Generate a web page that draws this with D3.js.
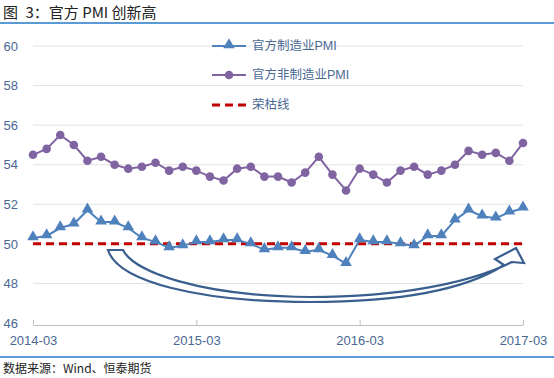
<!DOCTYPE html>
<html>
<head>
<meta charset="utf-8">
<script src="https://cdn.jsdelivr.net/npm/d3@7"></script>
<style>
  body { margin: 0; background: #fff; }
  svg { display: block; font-family: "Liberation Sans", "Noto Sans CJK SC", sans-serif; }
</style>
</head>
<body>
<div class="chart"></div>
<script>
// data: monthly, 2014-03 .. 2017-03
const months = [
  "2014-03","2014-04","2014-05","2014-06","2014-07","2014-08","2014-09","2014-10","2014-11","2014-12",
  "2015-01","2015-02","2015-03","2015-04","2015-05","2015-06","2015-07","2015-08","2015-09","2015-10","2015-11","2015-12",
  "2016-01","2016-02","2016-03","2016-04","2016-05","2016-06","2016-07","2016-08","2016-09","2016-10","2016-11","2016-12",
  "2017-01","2017-02","2017-03"
];
const mfgPMI = [
  50.3, 50.4, 50.8, 51.0, 51.7, 51.1, 51.1, 50.8, 50.3, 50.1,
  49.8, 49.9, 50.1, 50.1, 50.2, 50.2, 50.0, 49.7, 49.8, 49.8, 49.6, 49.7,
  49.4, 49.0, 50.2, 50.1, 50.1, 50.0, 49.9, 50.4, 50.4, 51.2, 51.7, 51.4,
  51.3, 51.6, 51.8
];
const nonMfgPMI = [
  54.5, 54.8, 55.5, 55.0, 54.2, 54.4, 54.0, 53.8, 53.9, 54.1,
  53.7, 53.9, 53.7, 53.4, 53.2, 53.8, 53.9, 53.4, 53.4, 53.1, 53.6, 54.4,
  53.5, 52.7, 53.8, 53.5, 53.1, 53.7, 53.9, 53.5, 53.7, 54.0, 54.7, 54.5,
  54.6, 54.2, 55.1
];
const boomLine = 50;
const yTicks = [46, 48, 50, 52, 54, 56, 58, 60];
const xTicks = ["2014-03", "2015-03", "2016-03", "2017-03"];
const legendLabels = ["官方制造业PMI", "官方非制造业PMI", "荣枯线"];

const width = 554, height = 378;
const blue = "#4F81BD", purple = "#8064A2", red = "#C00000";
const labelColor = "#4A6894";

let svg = d3.select(".chart").append("svg")
  .attr("width", width)
  .attr("height", height);

// title + rule
svg.append("text")
  .attr("x", 3).attr("y", 18)
  .attr("font-family", "Noto Sans CJK SC")
  .attr("font-size", 15)
  .attr("fill", "#222")
  .text("图\u20023：官方 PMI 创新高");
svg.append("line")
  .attr("x1", 0).attr("x2", width)
  .attr("y1", 23).attr("y2", 23)
  .attr("stroke", "#5B9BD5").attr("stroke-width", 2);

// scales
let x = d3.scalePoint().domain(months).range([33, 523]);
let y = d3.scaleLinear().domain([46, 60]).range([323, 46]);

// gridlines
svg.append("g")
  .selectAll("line")
  .data(yTicks.slice(1))
  .join("line")
  .attr("x1", 33).attr("x2", 523)
  .attr("y1", d => y(d)).attr("y2", d => y(d))
  .attr("stroke", "#E3E3E3").attr("stroke-width", 1);

// y axis labels
let yAxis = g => g
  .attr("transform", "translate(18,0)")
  .call(d3.axisLeft(y).tickValues(yTicks).tickSize(0).tickPadding(0))
  .call(g => g.select(".domain").remove())
  .call(g => g.selectAll("text")
    .attr("fill", labelColor)
    .attr("font-size", 13)
    .attr("font-family", "Liberation Sans"));
svg.append("g").call(yAxis);

// x axis
let xAxis = g => g
  .attr("transform", "translate(0,325)")
  .call(d3.axisTop(x).tickValues(xTicks).tickSize(5).tickSizeOuter(0))
  .call(g => g.select(".domain").attr("stroke", "#BFBFBF"))
  .call(g => g.selectAll(".tick line").attr("stroke", "#BFBFBF"))
  .call(g => g.selectAll("text")
    .attr("fill", labelColor)
    .attr("font-size", 13)
    .attr("font-family", "Liberation Sans")
    .attr("y", 15)
    .attr("dy", "0.35em"));
svg.append("g").call(xAxis);

// curved arrow (annotation)
svg.append("path")
  .attr("d",
    "M108,250 L123,250 " +
    "C134,272 200,296 310,297 " +
    "C400,297 470,283 512,262 " +
    "L524,263 L516,248 L495,259 L504,265 " +
    "C465,290 400,302 310,302 " +
    "C200,302 118,282 108,250 Z")
  .attr("fill", "#fff")
  .attr("stroke", "#3A5F8F")
  .attr("stroke-width", 2.2)
  .attr("stroke-linejoin", "miter");

// boom-bust line
svg.append("line")
  .attr("x1", x(months[0])).attr("x2", x(months[months.length - 1]))
  .attr("y1", y(boomLine)).attr("y2", y(boomLine))
  .attr("stroke", red).attr("stroke-width", 3)
  .attr("stroke-dasharray", "8,5");

let line = d3.line().x((d, i) => x(months[i])).y(d => y(d));

// non-manufacturing
svg.append("path").datum(nonMfgPMI)
  .attr("d", line).attr("fill", "none")
  .attr("stroke", purple).attr("stroke-width", 2);
svg.append("g").selectAll("circle")
  .data(nonMfgPMI).join("circle")
  .attr("cx", (d, i) => x(months[i]))
  .attr("cy", d => y(d))
  .attr("r", 4.3)
  .attr("fill", purple);

// manufacturing
let tri = d3.symbol().type(d3.symbolTriangle).size(58);
svg.append("path").datum(mfgPMI)
  .attr("d", line).attr("fill", "none")
  .attr("stroke", blue).attr("stroke-width", 2);
svg.append("g").selectAll("path")
  .data(mfgPMI).join("path")
  .attr("d", tri)
  .attr("transform", (d, i) => `translate(${x(months[i])},${y(d) - 1})`)
  .attr("fill", blue);

// legend
let legendY = [46, 75, 105];
let legend = svg.append("g");
legend.append("line").attr("x1", 212).attr("x2", 246).attr("y1", legendY[0]).attr("y2", legendY[0])
  .attr("stroke", blue).attr("stroke-width", 2);
legend.append("path").attr("d", tri).attr("transform", `translate(229,${legendY[0] - 1})`).attr("fill", blue);
legend.append("line").attr("x1", 212).attr("x2", 246).attr("y1", legendY[1]).attr("y2", legendY[1])
  .attr("stroke", purple).attr("stroke-width", 2);
legend.append("circle").attr("cx", 229).attr("cy", legendY[1]).attr("r", 4.3).attr("fill", purple);
legend.append("line").attr("x1", 212).attr("x2", 246).attr("y1", legendY[2]).attr("y2", legendY[2])
  .attr("stroke", red).attr("stroke-width", 3).attr("stroke-dasharray", "8,5");
legend.selectAll("text")
  .data(legendLabels).join("text")
  .attr("x", 252)
  .attr("y", (d, i) => legendY[i])
  .attr("dy", "0.35em")
  .attr("font-size", 12.5)
  .attr("font-family", "Liberation Sans, Noto Sans CJK SC")
  .attr("fill", labelColor)
  .text(d => d);

// footer
svg.append("line")
  .attr("x1", 0).attr("x2", width)
  .attr("y1", 357).attr("y2", 357)
  .attr("stroke", "#5B9BD5").attr("stroke-width", 2);
svg.append("text")
  .attr("x", 3).attr("y", 373)
  .attr("font-family", "Noto Sans CJK SC")
  .attr("font-size", 12)
  .attr("fill", "#222")
  .text("数据来源：Wind、恒泰期货");
</script>
</body>
</html>
